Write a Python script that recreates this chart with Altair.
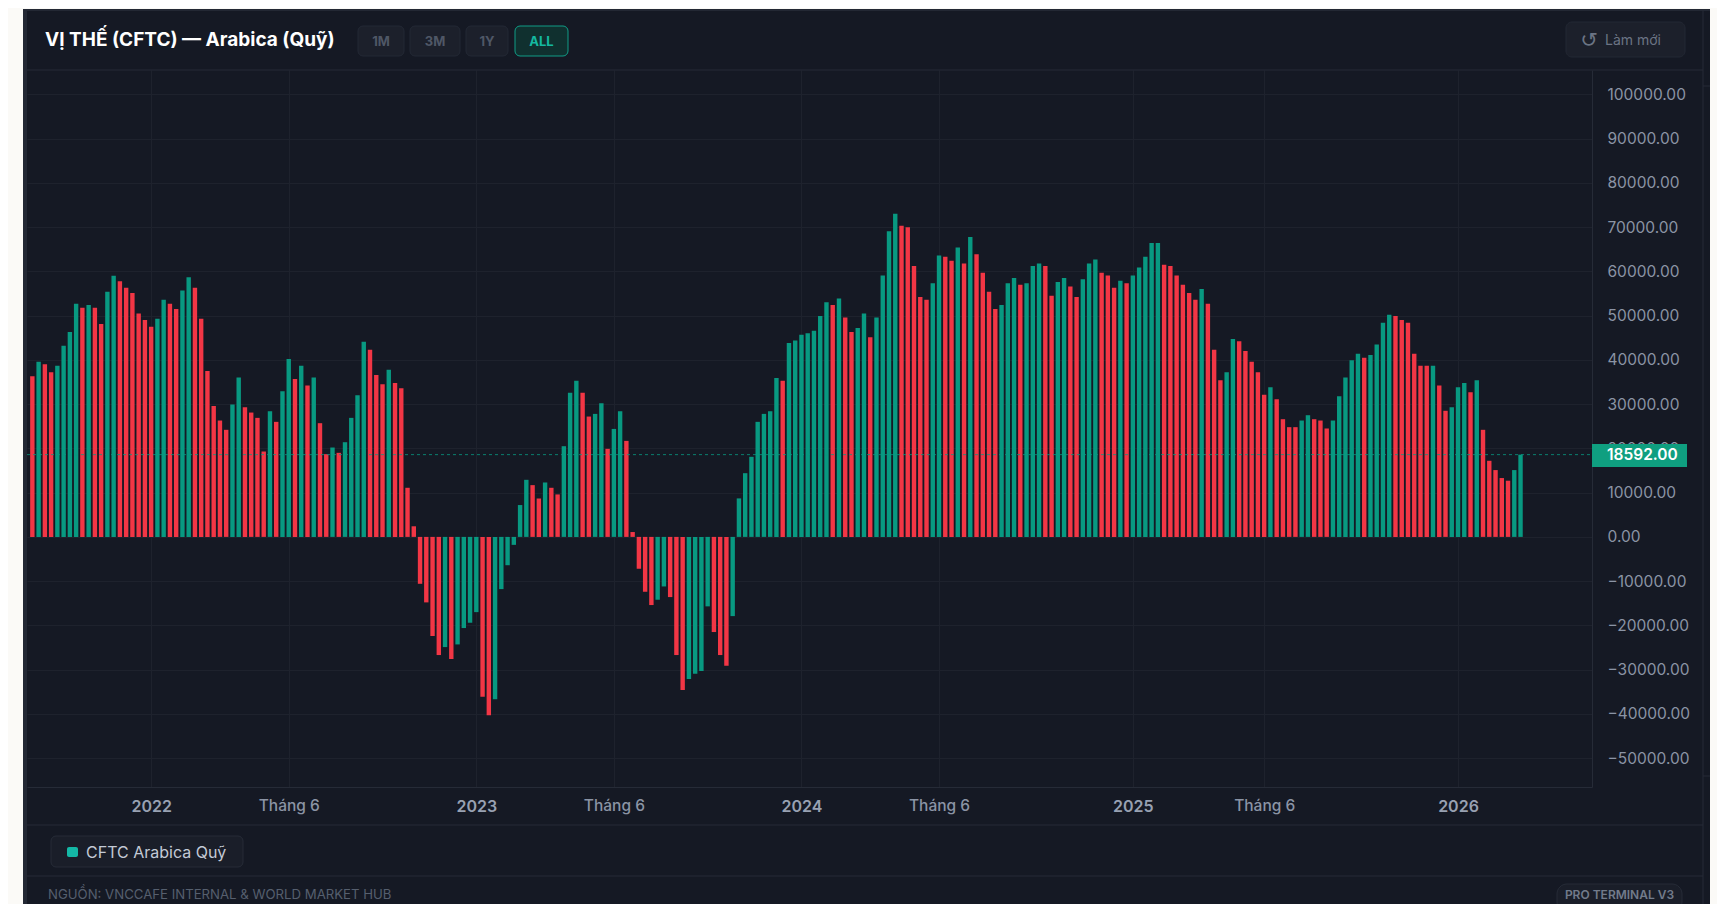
import altair as alt
import pandas as pd

# ---- data -----------------------------------------------------------------
START = "2021-08-24"
VALUES = [
    36300, 39600, 39000, 37200, 38700, 43200, 46300, 52700, 51800, 52400,
    51800, 48100, 55400, 59000, 57800, 56300, 55100, 50500, 49000, 47500,
    49300, 53600, 52700, 51500, 55700, 58700, 56300, 49300, 37500, 29600,
    26300, 24200, 29900, 36000, 29300, 28100, 26900, 19300, 28400, 26000,
    32900, 40200, 35700, 38700, 34200, 36000, 25700, 18700, 20200, 19000,
    21400, 26900, 32000, 44100, 42300, 36600, 34500, 37800, 34800, 33600,
    11100, 2400, -10600, -14800, -22400, -26700, -24900, -27600, -24300, -20600,
    -19400, -17000, -36100, -40300, -36700, -11800, -6400, -1800, 7200, 12900,
    11700, 8700, 12300, 11100, 9600, 20500, 32600, 35300, 32600, 27200,
    27800, 30200, 19900, 24400, 28400, 21700, 1100, -7200, -12400, -15400,
    -14200, -11200, -13600, -26700, -34600, -32100, -30900, -30300, -15700, -21500,
    -26700, -29100, -17900, 8700, 14400, 18100, 26000, 27800, 28400, 35900,
    35300, 43800, 44400, 45700, 46000, 46600, 49900, 53000, 52400, 53900,
    49600, 46300, 47200, 50500, 45100, 49600, 59100, 69100, 73000, 70300,
    70000, 61200, 54200, 53600, 57300, 63600, 63300, 62400, 65400, 61800,
    67800, 63900, 59700, 55400, 51500, 52400, 57300, 58500, 57000, 57300,
    61200, 61800, 61200, 54500, 57600, 58500, 56600, 54200, 58200, 61800,
    62700, 59700, 59100, 56300, 57900, 57300, 59100, 60900, 63300, 66400,
    66400, 61500, 61200, 59100, 57000, 55100, 53600, 56000, 52700, 42300,
    35400, 37200, 44700, 44200, 42000, 39600, 37200, 32100, 33800, 31100,
    26600, 24800, 24800, 26300, 27500, 26600, 26300, 24500, 26300, 31800,
    36000, 39900, 41400, 40500, 41100, 43500, 48400, 50200, 49900, 49000,
    48400, 41400, 38700, 38700, 38700, 34200, 28500, 29300, 33800, 34800,
    32700, 35400, 24200, 17200, 15100, 13300, 12700, 15100, 18592,
]
DIRECTIONS = (
    "RGRRGGGGRG" "RRGGRRRRRR" "GGRRGGRRRR" "RRGGRRRRGR" "GGRGRGRRGR"
    "GGGGRRRGRR" "RRRRRRGRGG" "GGRRGGGGGG" "RRGRRGGGRR" "GGRGGRRRRR"
    "GGRRRGGGGR" "RRGGGGGGGG" "RGGGGGGGRG" "RRGGRGGGGR" "RRRRGGRRGR"
    "GRRRRGGGRG" "GGRRGGRRGG" "GRRRGRGGGG" "GRRRRRRGRR" "RGGRRRRRGR"
    "RRRGGRRRGG" "GGGRGGGGRR" "RRRRGRRGGG" "RGRRRRRGG"
)
X_TICKS = ["2022-01-04", "2022-06-07", "2023-01-03", "2023-06-06", "2024-01-02",
           "2024-06-04", "2025-01-07", "2025-06-03", "2026-01-06"]
Y_TICKS = list(range(-50000, 100001, 10000))
X_DOMAIN = ["2021-08-18", "2026-06-05"]
Y_DOMAIN = [-56520, 105514]
LAST = VALUES[-1]

assert len(VALUES) == len(DIRECTIONS)

UP, DOWN = "#089981", "#F23645"
PANEL, EDGE, LINE, GRID = "#151924", "#232834", "#262b37", "#1e222d"
PAGE = "#FBFAF7"
MUTED = "#8b94a5"
FONT = "Inter"

df = pd.DataFrame({
    "date": pd.date_range(START, periods=len(VALUES), freq="7D").strftime("%Y-%m-%d"),
    "value": VALUES,
    "dir": list(DIRECTIONS),
})
one = pd.DataFrame({"k": [0]})
tick_ms = [int(pd.Timestamp(t).value // 10**6) for t in X_TICKS]
dom_ms = [int(pd.Timestamp(t).value // 10**6) for t in X_DOMAIN]

OX, OY = 27, 70  # plot origin on the page
IS_YEAR = "utcmonth(datum.value) === 0"


def rect(x0, y0, x1, y1, fill, stroke=None, radius=0):
    kw = dict(fill=fill, cornerRadius=radius)
    if stroke:
        kw.update(stroke=stroke, strokeWidth=1)
    return alt.Chart(one).mark_rect(**kw).encode(
        x=alt.value(x0 - OX), x2=alt.value(x1 - OX),
        y=alt.value(y0 - OY), y2=alt.value(y1 - OY))


def hline(x0, x1, y, color=LINE):
    return alt.Chart(one).mark_rule(color=color, strokeWidth=1).encode(
        x=alt.value(x0 - OX), x2=alt.value(x1 - OX), y=alt.value(y - OY))


def vline(x, y0, y1, color=LINE):
    return alt.Chart(one).mark_rule(color=color, strokeWidth=1).encode(
        x=alt.value(x - OX), y=alt.value(y0 - OY), y2=alt.value(y1 - OY))


def label(x, y, s, color, size, weight=400, align="left", font=FONT):
    return alt.Chart(one).mark_text(
        text=s, color=color, fontSize=size, fontWeight=weight, align=align,
        baseline="middle", font=font).encode(
        x=alt.value(x - OX), y=alt.value(y - OY))


x_enc = alt.X("date:T", title=None,
              scale=alt.Scale(type="utc", domain=dom_ms, nice=False, padding=0),
              axis=alt.Axis(
                  values=tick_ms, grid=True, gridColor=GRID, gridWidth=1,
                  ticks=False, domain=True, domainColor=LINE,
                  labelFont=FONT, labelPadding=11,
                  labelFontSize={"condition": {"test": IS_YEAR, "value": 16}, "value": 15.5},
                  labelFontWeight={"condition": {"test": IS_YEAR, "value": 600}, "value": 500},
                  labelColor={"condition": {"test": IS_YEAR, "value": "#98a1b2"}, "value": MUTED},
                  labelOverlap=False, labelFlush=False,
                  labelExpr="utcmonth(datum.value) === 0 ? ''+utcyear(datum.value) : 'Tháng 6'"))
y_enc = alt.Y("value:Q", title=None,
              scale=alt.Scale(domain=Y_DOMAIN, nice=False, zero=False),
              axis=alt.Axis(
                  orient="right", values=Y_TICKS, format=".2f",
                  grid=True, gridColor=GRID, gridWidth=1,
                  ticks=False, domain=True, domainColor=LINE,
                  labelFont=FONT, labelFontSize=15.5, labelPadding=15,
                  labelColor=MUTED, labelOverlap=False, labelFlush=False))

bars = alt.Chart(df).mark_bar(size=4.4).encode(
    x=x_enc, y=y_enc,
    color=alt.Color("dir:N", legend=None,
                    scale=alt.Scale(domain=["G", "R"], range=[UP, DOWN])))

price_line = alt.Chart(one).mark_rule(
    color=UP, strokeWidth=1, strokeDash=[3, 3], opacity=0.8
).encode(y=alt.datum(LAST), x=alt.value(0), x2=alt.value(1592 - OX))

price_text = alt.Chart(one).mark_text(
    text=f"{LAST:.2f}", color="#ffffff", fontSize=15.5, fontWeight=600, align="left",
    baseline="middle", font=FONT, dy=0.5).encode(x=alt.value(1607 - OX), y=alt.datum(LAST))

chrome = [
    # page surround
    rect(8, 8, 23, 904, PAGE), rect(8, 8, 1717, 9, PAGE), rect(1710, 8, 1717, 904, PAGE),
    rect(23, 9, 27, 904, EDGE), rect(23, 9, 1710, 11, EDGE),
    # separators
    hline(27, 1703, 70), hline(27, 1703, 825), hline(27, 1703, 876),
    vline(1703, 9, 904), hline(1703, 1710, 86), hline(1703, 1710, 776),
    # header
    label(45, 39.5, "VỊ THẾ (CFTC) — Arabica (Quỹ)", "#ffffff", 19, 700),
    rect(358, 26, 404, 56, "#1c202b", "#232834", 5),
    rect(410, 26, 460, 56, "#1c202b", "#232834", 5),
    rect(466, 26, 508, 56, "#1c202b", "#232834", 5),
    rect(515, 26, 568, 56, "#10302f", "#109c86", 5),
    label(381, 41.5, "1M", "#4f5766", 13, 700, "center"),
    label(435, 41.5, "3M", "#4f5766", 13, 700, "center"),
    label(487, 41.5, "1Y", "#4f5766", 13, 700, "center"),
    label(541.5, 41.5, "ALL", "#14b8a0", 13, 700, "center"),
    rect(1566, 22, 1685, 57, "#1c202b", "#232834", 6),
    label(1589, 41, "↺", "#6b7484", 21, 400, "center", "DejaVu Sans"),
    label(1605, 40.5, "Làm mới", "#6b7484", 14, 400),
    # legend and footer
    rect(51, 836, 243, 867, "#1a1e29", "#262b37", 5),
    rect(67, 847, 78, 857, "#14b8a6", None, 2),
    label(86, 852.5, "CFTC Arabica Quỹ", "#c3cad6", 16, 400),
    label(48, 895, "NGUỒN: VNCCAFE INTERNAL & WORLD MARKET HUB", "#565f6e", 13.2, 400),
    rect(1557, 884, 1682, 912, "#1a1e29", "#262b37", 10),
    label(1619.5, 895, "PRO TERMINAL V3", "#727b8b", 12, 600, "center"),
]

chip = rect(1592, 444, 1687, 467, "#0f9f80")

chart = alt.layer(
    bars, price_line, *chrome, chip, price_text
).properties(
    width=1592 - OX,
    height=787 - OY,
    padding={"left": OX - 8, "top": OY - 8, "right": 1717 - 1592, "bottom": 904 - 787},
    autosize=alt.AutoSizeParams(type="none"),
    background=PANEL,
).configure_view(stroke=None)

chart.save("out.html", embed_options={"renderer": "svg", "actions": False})
